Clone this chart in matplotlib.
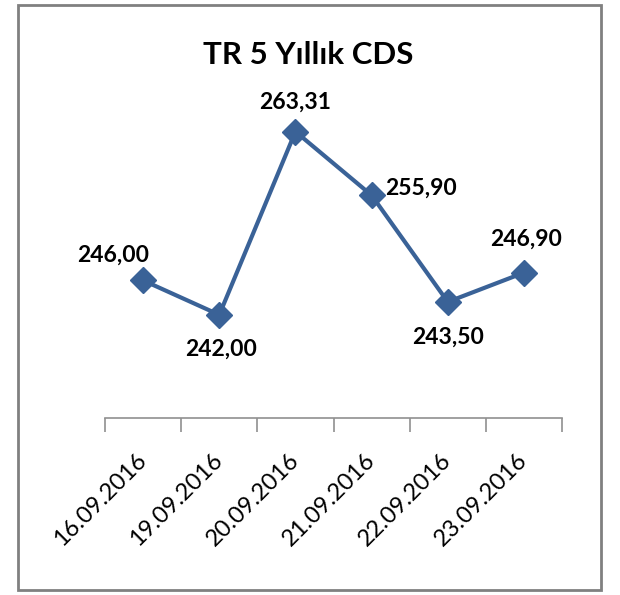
import matplotlib
matplotlib.use("Agg")
import matplotlib.pyplot as plt
from matplotlib.patches import Rectangle

# chart data
dates = ["16.09.2016", "19.09.2016", "20.09.2016", "21.09.2016", "22.09.2016", "23.09.2016"]
cds = [246.00, 242.00, 263.31, 255.90, 243.50, 246.90]
labels = ["246,00", "242,00", "263,31", "255,90", "243,50", "246,90"]
# label offsets in pixels (dx, dy) relative to each point
offsets = [(-30, 25), (2, -34), (0, 29), (49, 7), (0, -35), (2, 33)]

plt.rcParams['font.family'] = ['Lato', 'DejaVu Sans']

fig = plt.figure(figsize=(6.2, 5.95), dpi=100)
ax = fig.add_axes([0.1694, 0.2975, 0.7371, 0.578])

x = list(range(len(dates)))
ax.plot(x, cds, color='#3A6297', linewidth=3, marker='D', markersize=13,
        markerfacecolor='#3A6297', markeredgecolor='#3A6297')

for i, (val, txt, off) in enumerate(zip(cds, labels, offsets)):
    ax.annotate(txt, (i, val), xytext=off, textcoords='offset pixels',
                ha='center', va='center', fontsize=16.5, fontweight='bold')

ax.set_xlim(-0.5, len(dates) - 0.5)
ax.set_ylim(230, 270)

# x axis: labels at centres, tick marks between categories
ax.set_xticks(x)
ax.set_xticklabels(dates, rotation=45, ha='right', va='center',
                   rotation_mode='anchor', fontsize=17)
ax.tick_params(axis='x', which='major', length=0, pad=28)
ax.set_xticks([i - 0.5 for i in range(len(dates) + 1)], minor=True)
ax.tick_params(axis='x', which='minor', length=10, color='#909090', width=1.2)
ax.set_yticks([])

for side in ['left', 'right', 'top']:
    ax.spines[side].set_visible(False)
ax.spines['bottom'].set_color('#909090')
ax.spines['bottom'].set_linewidth(1.2)

fig.text(0.497, 0.908, "TR 5 Yıllık CDS", ha='center', va='center',
         fontsize=22.5, fontweight='bold')

# outer border of the chart
fig.patches.append(Rectangle((0.029, 0.008), 0.94, 0.984, transform=fig.transFigure,
                             fill=False, edgecolor='#808080', linewidth=2))

plt.savefig('out.png', dpi=100)
